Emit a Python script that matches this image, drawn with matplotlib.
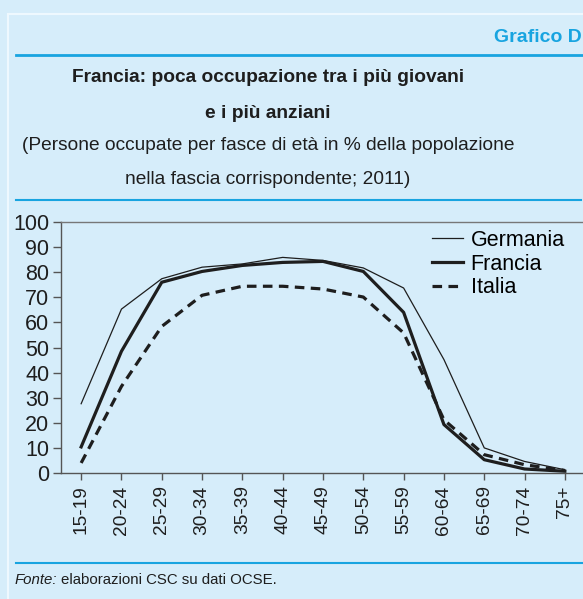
import numpy as np
import matplotlib
matplotlib.use("Agg")
import matplotlib.pyplot as plt
from matplotlib.lines import Line2D

ages = ["15-19", "20-24", "25-29", "30-34", "35-39", "40-44", "45-49",
        "50-54", "55-59", "60-64", "65-69", "70-74", "75+"]
germania = [27.6, 65.3, 77.4, 82.0, 83.3, 85.9, 84.7, 81.7, 73.7, 45.2, 10.0, 4.6, 1.3]
francia = [10.4, 48.5, 76.0, 80.3, 82.7, 83.9, 84.3, 80.3, 64.0, 19.3, 5.3, 1.6, 0.7]
italia = [4.0, 34.5, 58.4, 70.8, 74.4, 74.4, 73.3, 70.1, 55.8, 21.2, 7.3, 3.3, 1.0]

W, H = 583, 599
bg = "#d6edfa"
blue = "#18a4e0"
ink = "#1e1e1e"
font = ["Liberation Sans", "DejaVu Sans"]

def fx(x):
    return x / W

def fy(y):
    return 1 - y / H

fig = plt.figure(figsize=(W / 100, H / 100), dpi=100)
fig.patch.set_facecolor(bg)

# panel border (lighter line) and blue rules
fig.add_artist(Line2D([fx(7.5), fx(7.5)], [fy(13.5), 0], color="#eef8fe", lw=1.5))
fig.add_artist(Line2D([fx(7.5), 1], [fy(13.5), fy(13.5)], color="#eef8fe", lw=1.5))
fig.add_artist(Line2D([fx(16), 1], [fy(55), fy(55)], color=blue, lw=2))
fig.add_artist(Line2D([fx(16), fx(581)], [fy(199.5), fy(199.5)], color=blue, lw=1.5))
fig.add_artist(Line2D([fx(16), 1], [fy(563), fy(563)], color=blue, lw=1.5))

fig.text(fx(582), fy(37), "Grafico D", color=blue, fontsize=14, fontweight="bold",
         family=font, ha="right", va="center")
fig.text(fx(268), fy(78), "Francia: poca occupazione tra i più giovani", color=ink,
         fontsize=13.8, fontweight="bold", family=font, ha="center", va="center")
fig.text(fx(268), fy(114), "e i più anziani", color=ink,
         fontsize=13.8, fontweight="bold", family=font, ha="center", va="center")
fig.text(fx(268), fy(146), "(Persone occupate per fasce di età in % della popolazione",
         color=ink, fontsize=13.8, family=font, ha="center", va="center")
fig.text(fx(268), fy(180), "nella fascia corrispondente; 2011)",
         color=ink, fontsize=13.8, family=font, ha="center", va="center")

fig.text(fx(15), fy(580), "Fonte:", color=ink, fontsize=10.8, family=font,
         style="italic", ha="left", va="center")
fig.text(fx(61), fy(580), "elaborazioni CSC su dati OCSE.", color=ink, fontsize=10.8,
         family=font, ha="left", va="center")

ax = fig.add_axes([fx(61), fy(473), fx(583 - 61), (473 - 222) / H])
ax.set_facecolor(bg)
x = np.arange(len(ages))
ax.plot(x, germania, color=ink, lw=0.9, label="Germania")
ax.plot(x, francia, color=ink, lw=2.3, label="Francia")
ax.plot(x, italia, color=ink, lw=2.3, dashes=(3, 2), label="Italia")

ax.set_xlim(-0.5, 12.45)
ax.set_ylim(0, 100)
ax.set_yticks(range(0, 101, 10))
ax.set_xticks(x)
ax.set_xticklabels(ages, rotation=90, family=font, fontsize=13.8, color=ink)
for lab in ax.get_yticklabels():
    lab.set_family(font)
    lab.set_fontsize(15.5)
    lab.set_color(ink)
ax.tick_params(axis="y", length=5.5, width=1, color="#555555", pad=3)
ax.tick_params(axis="x", length=5, width=1, color="#555555", pad=4)
ax.spines["right"].set_visible(False)
for s in ["left", "bottom"]:
    ax.spines[s].set_color("#555555")
    ax.spines[s].set_linewidth(1)
ax.spines["top"].set_color("#777777")
ax.spines["top"].set_linewidth(1)

ax.legend(loc="upper left", bbox_to_anchor=(fx(432), fy(230)), bbox_transform=fig.transFigure,
          frameon=False, prop={"family": font, "size": 15.5}, handlelength=1.45,
          handletextpad=0.35, labelspacing=0.12, borderpad=0, borderaxespad=0)

fig.savefig("out.png", dpi=100, facecolor=bg)
